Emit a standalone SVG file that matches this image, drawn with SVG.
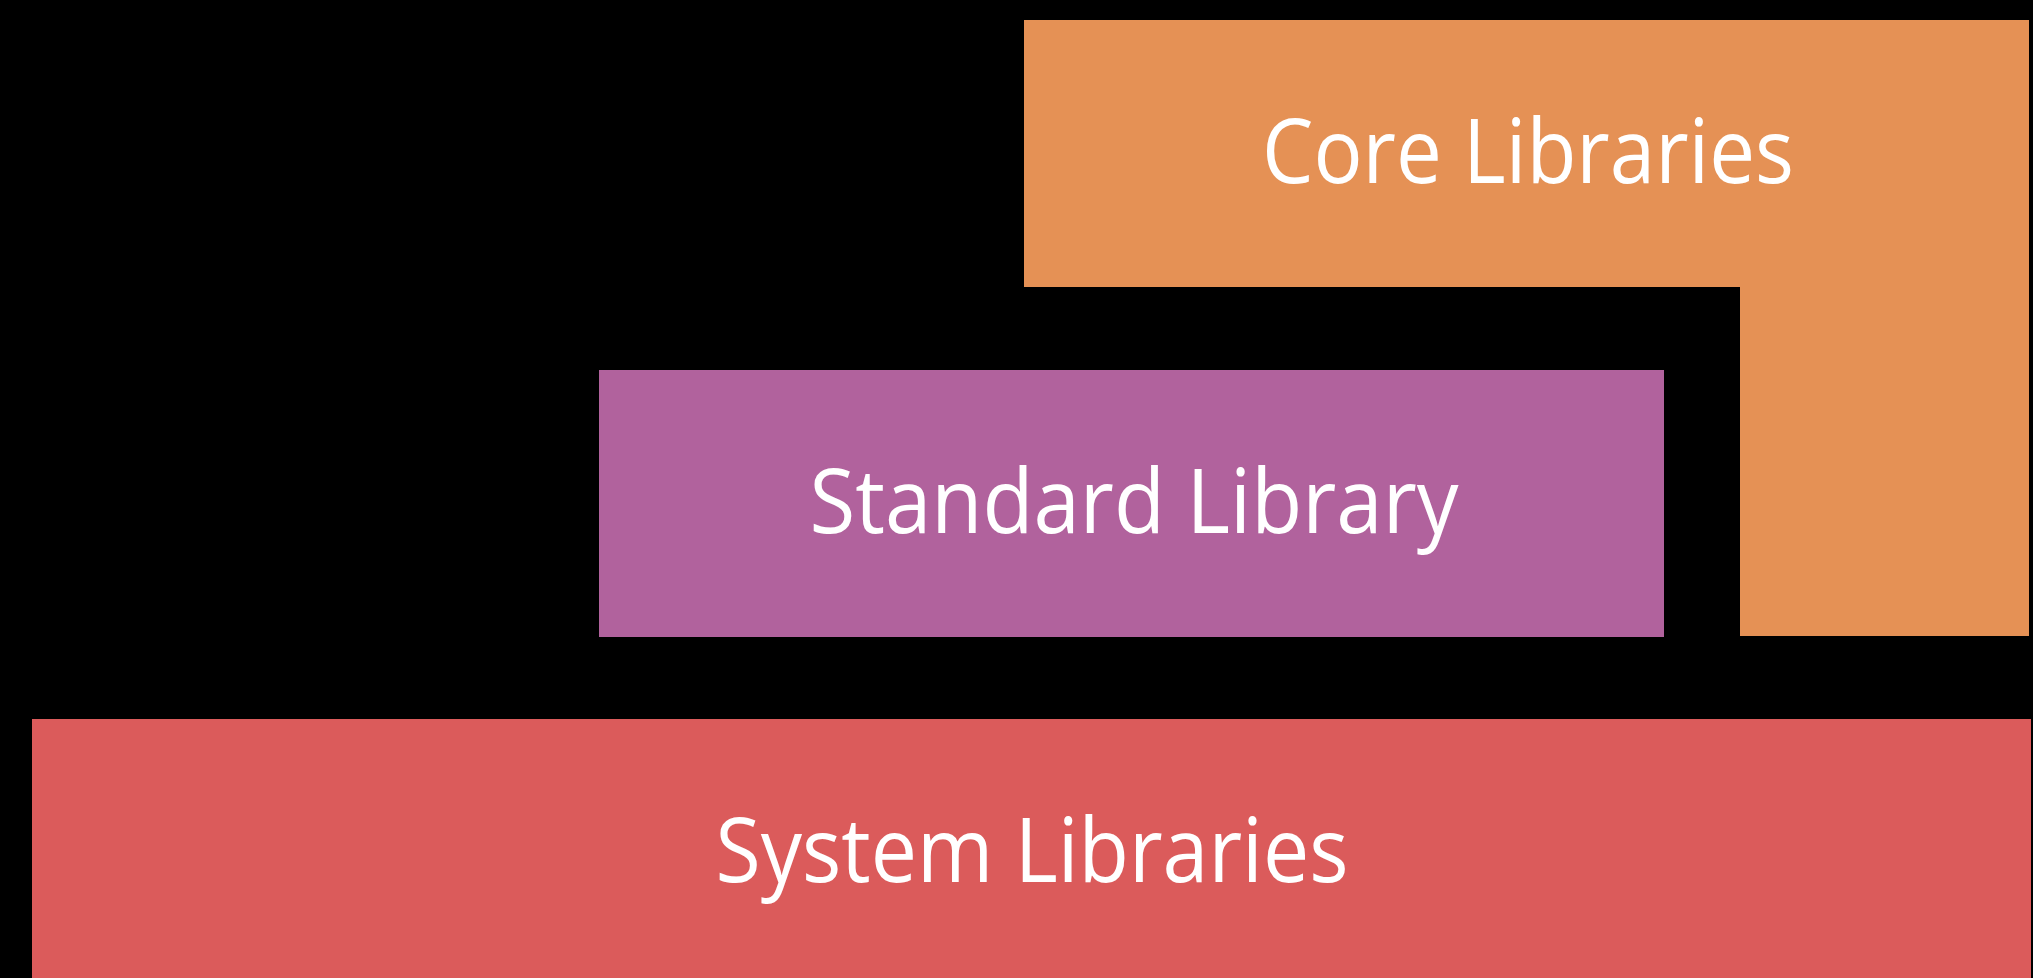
<svg xmlns="http://www.w3.org/2000/svg" width="2033" height="978" viewBox="0 0 2033 978">
  <style>
    .lbl { font-family: "Open Sans", "Noto Sans", "Liberation Sans", sans-serif; font-size: 90px; fill: #ffffff; text-anchor: middle; }
  </style>
  <rect x="0" y="0" width="2033" height="978" fill="#000000"/>
  <g id="core-libraries">
    <path d="M1024 20 H2029 V636 H1740 V287 H1024 Z" fill="#E59155"/>
    <text class="lbl" x="1528" y="183" textLength="532" lengthAdjust="spacingAndGlyphs">Core Libraries</text>
  </g>
  <g id="standard-library">
    <rect x="599" y="370" width="1065" height="267" fill="#B1629D"/>
    <text class="lbl" x="1134" y="533" textLength="649" lengthAdjust="spacingAndGlyphs">Standard Library</text>
  </g>
  <g id="system-libraries">
    <rect x="32" y="719" width="1999" height="259" fill="#DB5B5B"/>
    <text class="lbl" x="1032" y="882" textLength="633" lengthAdjust="spacingAndGlyphs">System Libraries</text>
  </g>
  <g id="connectors"></g>
</svg>
